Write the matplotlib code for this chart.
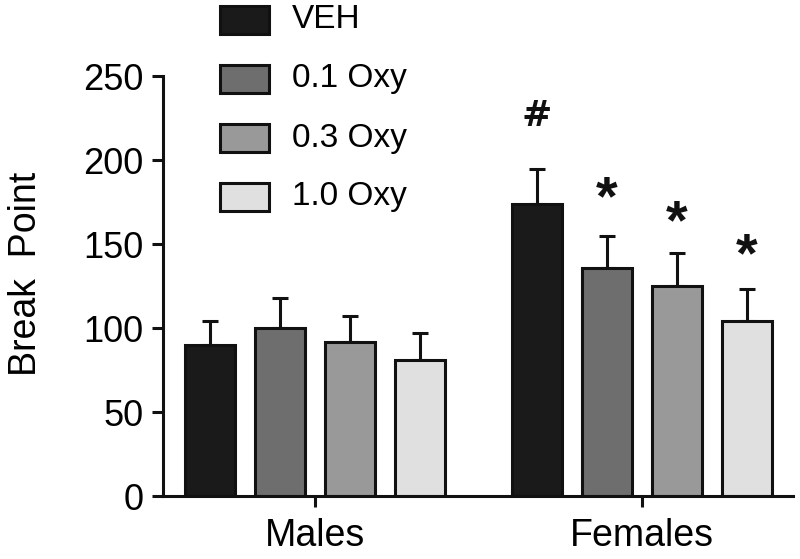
import matplotlib
matplotlib.use("Agg")
import matplotlib.pyplot as plt
from matplotlib.patches import Rectangle

plt.rcParams['font.family'] = ['Liberation Sans', 'DejaVu Sans']

groups = ["Males", "Females"]
treatments = ["VEH", "0.1 Oxy", "0.3 Oxy", "1.0 Oxy"]
colors = ["#1a1a1a", "#6e6e6e", "#999999", "#e0e0e0"]
means = {
    "VEH":     [90, 174],
    "0.1 Oxy": [100, 136],
    "0.3 Oxy": [92, 125],
    "1.0 Oxy": [81, 104],
}
sems = {
    "VEH":     [14, 21],
    "0.1 Oxy": [18, 19],
    "0.3 Oxy": [15, 20],
    "1.0 Oxy": [16, 19],
}
# significance markers (Females group): symbol, y position
marks = {"VEH": ("#", 226), "0.1 Oxy": ("*", 176), "0.3 Oxy": ("*", 162), "1.0 Oxy": ("*", 142)}
yticks = [0, 50, 100, 150, 200, 250]

fig = plt.figure(figsize=(8, 5.59), dpi=100)
ax = fig.add_axes([0.204, 0.1127, 0.787, 0.751])

width = 0.153
step = 0.214
offsets = [-1.5 * step, -0.5 * step, 0.5 * step, 1.5 * step]
lw = 2.2
for i, t in enumerate(treatments):
    xs = [g + offsets[i] for g in range(len(groups))]
    ax.errorbar(xs, means[t], yerr=[[0] * len(xs), sems[t]], fmt='none',
                ecolor='#111111', elinewidth=lw, capsize=6, capthick=lw, zorder=1)
    ax.bar(xs, means[t], width=width, color=colors[i], edgecolor='#111111',
           linewidth=lw, zorder=2)
    sym, yv = marks[t]
    if sym == "#":
        ax.text(xs[1], yv, sym, ha='center', va='center', fontsize=26,
                fontweight='bold', family=['DejaVu Sans'], color='#111111')
    else:
        ax.text(xs[1], yv, sym, ha='center', va='center', fontsize=40,
                fontweight='bold', color='#111111')

ax.set_xlim(-0.465, 1.462)
ax.set_ylim(0, 250)
ax.set_yticks(yticks)
ax.set_xticks(range(len(groups)))
ax.set_xticklabels(groups)
ax.set_ylabel("Break  Point", fontsize=27)
ax.yaxis.set_label_coords(-0.19, 0.53)
for s in ['top', 'right']:
    ax.spines[s].set_visible(False)
for s in ['left', 'bottom']:
    ax.spines[s].set_linewidth(lw)
    ax.spines[s].set_color('#111111')
ax.tick_params(axis='y', labelsize=26, width=lw, length=8, pad=6, color='#111111')
ax.tick_params(axis='x', labelsize=27, width=lw, length=8, pad=8, color='#111111')
ax.spines['left'].set_bounds(0, 250)

# legend drawn in figure pixel coordinates
ypos = [20, 79, 138, 197]
for i, t in enumerate(treatments):
    yc = 1 - ypos[i] / 559
    fig.patches.append(Rectangle((220 / 800, yc - 14 / 559), 49 / 800, 28 / 559,
                                 transform=fig.transFigure, facecolor=colors[i],
                                 edgecolor='#111111', linewidth=lw))
    fig.text(292 / 800, yc, t, fontsize=24, va='center', ha='left')

fig.savefig("out.png", dpi=100)
